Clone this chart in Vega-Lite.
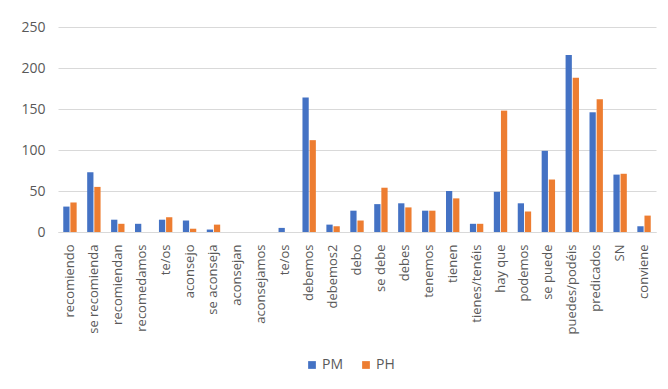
{
  "$schema": "https://vega.github.io/schema/vega-lite/v6.json",
  "width": 598,
  "height": 205,
  "autosize": "none",
  "padding": {"left": 58, "top": 27, "right": 12, "bottom": 157},
  "background": "white",
  "data": {
    "values": [
      {"cat": "recomiendo", "serie": "PM", "v": 31}, {"cat": "recomiendo", "serie": "PH", "v": 36},
      {"cat": "se recomienda", "serie": "PM", "v": 73}, {"cat": "se recomienda", "serie": "PH", "v": 55},
      {"cat": "recomiendan", "serie": "PM", "v": 15}, {"cat": "recomiendan", "serie": "PH", "v": 10},
      {"cat": "recomedamos", "serie": "PM", "v": 10}, {"cat": "recomedamos", "serie": "PH", "v": 0},
      {"cat": "te/os", "serie": "PM", "v": 15}, {"cat": "te/os", "serie": "PH", "v": 18},
      {"cat": "aconsejo", "serie": "PM", "v": 14}, {"cat": "aconsejo", "serie": "PH", "v": 4},
      {"cat": "se aconseja", "serie": "PM", "v": 3}, {"cat": "se aconseja", "serie": "PH", "v": 9},
      {"cat": "aconsejan", "serie": "PM", "v": 0}, {"cat": "aconsejan", "serie": "PH", "v": 0},
      {"cat": "aconsejamos", "serie": "PM", "v": 0}, {"cat": "aconsejamos", "serie": "PH", "v": 0},
      {"cat": "te/os (2)", "serie": "PM", "v": 5}, {"cat": "te/os (2)", "serie": "PH", "v": 0},
      {"cat": "debemos", "serie": "PM", "v": 164}, {"cat": "debemos", "serie": "PH", "v": 112},
      {"cat": "debemos2", "serie": "PM", "v": 9}, {"cat": "debemos2", "serie": "PH", "v": 7},
      {"cat": "debo", "serie": "PM", "v": 26}, {"cat": "debo", "serie": "PH", "v": 14},
      {"cat": "se debe", "serie": "PM", "v": 34}, {"cat": "se debe", "serie": "PH", "v": 54},
      {"cat": "debes", "serie": "PM", "v": 35}, {"cat": "debes", "serie": "PH", "v": 30},
      {"cat": "tenemos", "serie": "PM", "v": 26}, {"cat": "tenemos", "serie": "PH", "v": 26},
      {"cat": "tienen", "serie": "PM", "v": 50}, {"cat": "tienen", "serie": "PH", "v": 41},
      {"cat": "tienes/tenéis", "serie": "PM", "v": 10}, {"cat": "tienes/tenéis", "serie": "PH", "v": 10},
      {"cat": "hay que", "serie": "PM", "v": 49}, {"cat": "hay que", "serie": "PH", "v": 148},
      {"cat": "podemos", "serie": "PM", "v": 35}, {"cat": "podemos", "serie": "PH", "v": 25},
      {"cat": "se puede", "serie": "PM", "v": 99}, {"cat": "se puede", "serie": "PH", "v": 64},
      {"cat": "puedes/podéis", "serie": "PM", "v": 216}, {"cat": "puedes/podéis", "serie": "PH", "v": 188},
      {"cat": "predicados", "serie": "PM", "v": 146}, {"cat": "predicados", "serie": "PH", "v": 162},
      {"cat": "SN", "serie": "PM", "v": 70}, {"cat": "SN", "serie": "PH", "v": 71},
      {"cat": "conviene", "serie": "PM", "v": 7}, {"cat": "conviene", "serie": "PH", "v": 20}
    ]
  },
  "mark": {"type": "bar"},
  "encoding": {
    "x": {
      "field": "cat",
      "type": "nominal",
      "sort": null,
      "scale": {"paddingInner": 0.44, "paddingOuter": 0.22},
      "axis": {
        "title": null,
        "labelAngle": -90,
        "labelFont": "Open Sans",
        "labelFontSize": 13,
        "labelColor": "#595959",
        "labelPadding": 12,
        "ticks": false,
        "domainColor": "#d9d9d9",
        "labelExpr": "datum.label == 'te/os (2)' ? 'te/os' : datum.label"
      }
    },
    "xOffset": {"field": "serie", "type": "nominal", "sort": ["PM", "PH"], "scale": {"paddingInner": 0.12}},
    "y": {
      "field": "v",
      "type": "quantitative",
      "scale": {"domain": [0, 250]},
      "axis": {
        "title": null,
        "values": [0, 50, 100, 150, 200, 250],
        "domain": false,
        "ticks": false,
        "labelFont": "Open Sans",
        "labelFontSize": 14,
        "labelColor": "#595959",
        "labelPadding": 13,
        "gridColor": "#d9d9d9"
      }
    },
    "color": {
      "field": "serie",
      "type": "nominal",
      "sort": ["PM", "PH"],
      "scale": {"domain": ["PM", "PH"], "range": ["#4472C4", "#ED7D31"]},
      "legend": {
        "title": null,
        "orient": "none",
        "legendX": 247,
        "legendY": 331,
        "direction": "horizontal",
        "symbolType": "square",
        "symbolSize": 60,
        "labelFont": "Open Sans",
        "labelFontSize": 14,
        "labelColor": "#595959",
        "labelOffset": 3,
        "columnPadding": 15
      }
    }
  },
  "config": {"view": {"stroke": null}}
}
